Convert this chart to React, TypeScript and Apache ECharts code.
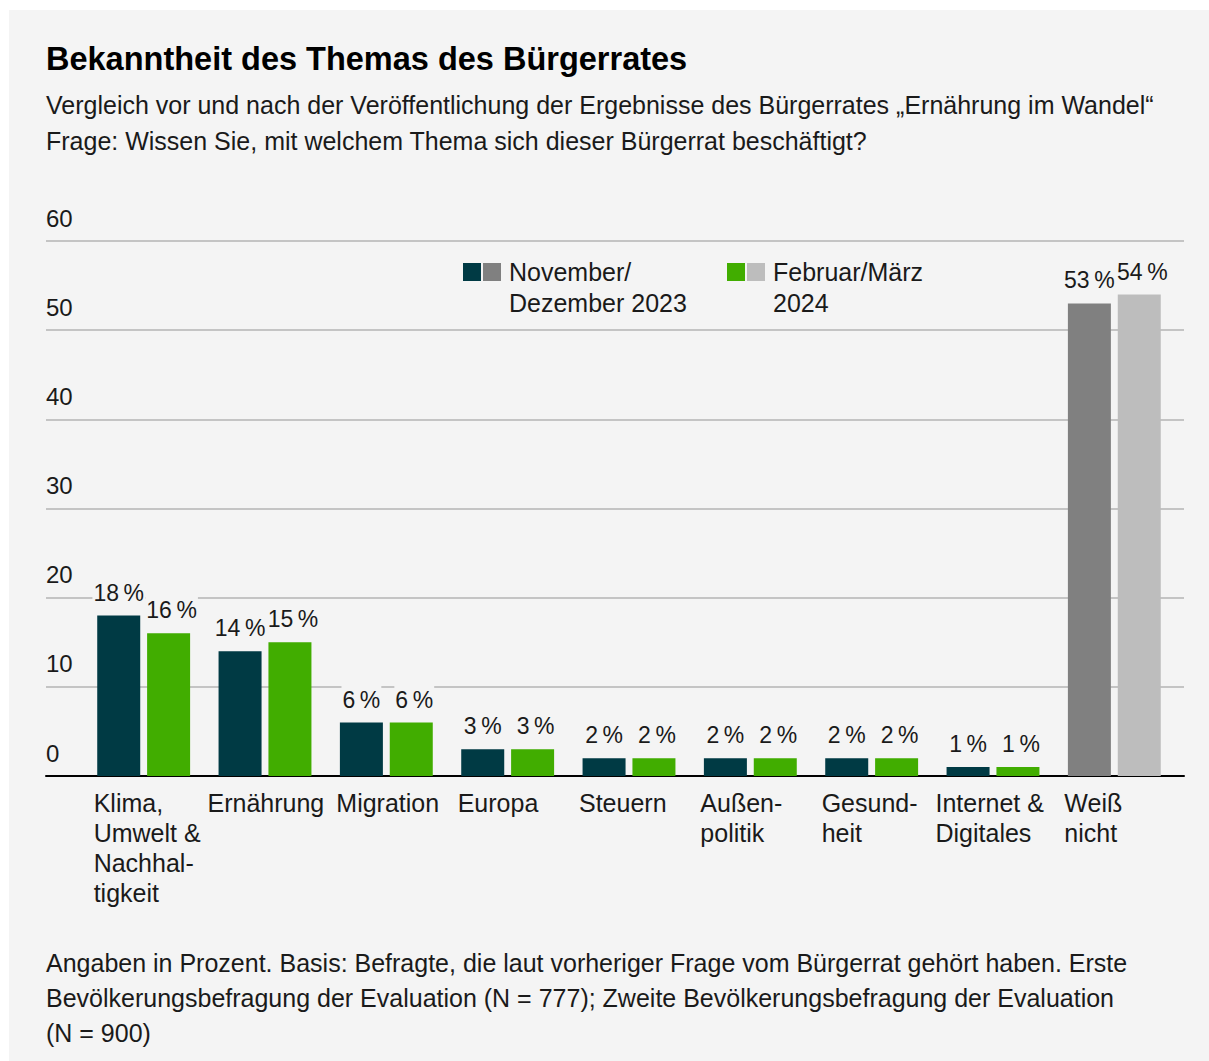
import React, { useEffect, useRef } from "react";
import * as echarts from "echarts";

const categories = [
  "Klima,\nUmwelt &\nNachhal-\ntigkeit",
  "Ernährung",
  "Migration",
  "Europa",
  "Steuern",
  "Außen-\npolitik",
  "Gesund-\nheit",
  "Internet &\nDigitales",
  "Weiß\nnicht",
];
const novDez2023 = [18, 14, 6, 3, 2, 2, 2, 1, 53];
const febMaerz2024 = [16, 15, 6, 3, 2, 2, 2, 1, 54];
const yTicks = { min: 0, max: 60, interval: 10 };

const legendNov = "November/\nDezember 2023";
const legendFeb = "Februar/März\n2024";
const title = "Bekanntheit des Themas des Bürgerrates";
const subtitle =
  "Vergleich vor und nach der Veröffentlichung der Ergebnisse des Bürgerrates „Ernährung im Wandel“\nFrage: Wissen Sie, mit welchem Thema sich dieser Bürgerrat beschäftigt?";
const footnote =
  "Angaben in Prozent. Basis: Befragte, die laut vorheriger Frage vom Bürgerrat gehört haben. Erste\nBevölkerungsbefragung der Evaluation (N = 777); Zweite Bevölkerungsbefragung der Evaluation\n(N = 900)";

const FONT = "'Liberation Sans', Arial, Helvetica, sans-serif";
const TXT = "#1a1a1a";
const PANEL = "#f4f4f4";
const C_NOV = "#003a44";
const C_FEB = "#41ad00";
const C_NOV_GREY = "#808080";
const C_FEB_GREY = "#bdbdbd";
const FS = 25;

export default function App() {
  const ref = useRef<HTMLDivElement>(null);
  useEffect(() => {
    if (!ref.current) return;
    const chart = echarts.init(ref.current, undefined, { renderer: "svg" });
    const lastIdx = categories.length - 1;
    const wideLabels = new Set(["Ernährung", "Internet &\nDigitales"]);
    const labelStyle = (dx: number) => ({
      show: true,
      position: "top",
      distance: 8,
      offset: [dx, 0],
      formatter: (p: any) => `${p.value}\u2009%`,
      color: TXT,
      fontSize: 23,
      fontFamily: FONT,
      lineHeight: 30,
      backgroundColor: PANEL,
      padding: [0, 1],
    });
    chart.setOption({
      animation: false,
      backgroundColor: PANEL,
      textStyle: { fontFamily: FONT },
      grid: [
        { left: 37, width: 1138, top: 231, height: 535 },
        { left: 74, width: 1092, top: 231, height: 535 },
      ],
      xAxis: [
        {
          gridIndex: 0,
          type: "value",
          min: 0,
          max: 1,
          axisLine: { show: true, onZero: false, lineStyle: { color: "#000", width: 2 } },
          axisTick: { show: false },
          axisLabel: { show: false },
          splitLine: { show: false },
        },
        {
          gridIndex: 1,
          type: "category",
          data: categories,
          axisLine: { show: false },
          axisTick: { show: false },
          splitLine: { show: false },
          axisLabel: {
            interval: 0,
            margin: 12,
            color: TXT,
            fontSize: FS,
            lineHeight: 30,
            fontFamily: FONT,
            formatter: (v: string) => {
              const st = wideLabels.has(v) ? "c" : "a";
              return v
                .split("\n")
                .map((l) => `{${st}|${l}}`)
                .join("\n");
            },
            rich: {
              a: { width: 100, align: "left", fontSize: FS, lineHeight: 30, color: TXT, fontFamily: FONT },
              c: { width: 115, align: "left", fontSize: FS, lineHeight: 30, color: TXT, fontFamily: FONT },
            },
          },
        },
      ],
      yAxis: [
        {
          gridIndex: 0,
          type: "value",
          min: yTicks.min,
          max: yTicks.max,
          interval: yTicks.interval,
          axisLine: { show: false },
          axisTick: { show: false },
          splitLine: { show: true, lineStyle: { color: "#b5b5b5", width: 1.5 } },
          axisLabel: {
            inside: true,
            margin: 0,
            color: TXT,
            fontSize: 24,
            fontFamily: FONT,
            verticalAlign: "bottom",
            lineHeight: 24,
            padding: [0, 0, 11, 0],
          },
        },
        {
          gridIndex: 1,
          type: "value",
          min: yTicks.min,
          max: yTicks.max,
          interval: yTicks.interval,
          show: false,
        },
      ],
      series: [
        {
          name: "November/Dezember 2023",
          type: "bar",
          xAxisIndex: 1,
          yAxisIndex: 1,
          barWidth: 43,
          barGap: "16%",
          data: novDez2023.map((v, i) => ({
            value: v,
            itemStyle: { color: i === lastIdx ? C_NOV_GREY : C_NOV },
          })),
          label: labelStyle(0),
        },
        {
          name: "Februar/März 2024",
          type: "bar",
          xAxisIndex: 1,
          yAxisIndex: 1,
          barWidth: 43,
          barGap: "16%",
          data: febMaerz2024.map((v, i) => ({
            value: v,
            itemStyle: { color: i === lastIdx ? C_FEB_GREY : C_FEB },
          })),
          label: labelStyle(3),
        },
      ],
      graphic: [
        {
          type: "text",
          x: 37,
          y: 49,
          style: { text: title, fill: "#000", font: `bold 32.5px ${FONT}`, verticalAlign: "middle" },
        },
        {
          type: "text",
          x: 37,
          y: 77,
          style: {
            text: subtitle,
            fill: TXT,
            fontSize: FS,
            fontFamily: FONT,
            lineHeight: 36,
            verticalAlign: "top",
          },
        },
        { type: "rect", shape: { x: 454, y: 253, width: 18, height: 18 }, style: { fill: C_NOV } },
        { type: "rect", shape: { x: 474, y: 253, width: 18, height: 18 }, style: { fill: C_NOV_GREY } },
        {
          type: "text",
          x: 500,
          y: 246.5,
          style: { text: legendNov, fill: TXT, fontSize: FS, fontFamily: FONT, lineHeight: 31, verticalAlign: "top" },
        },
        { type: "rect", shape: { x: 718, y: 253, width: 18, height: 18 }, style: { fill: C_FEB } },
        { type: "rect", shape: { x: 738, y: 253, width: 18, height: 18 }, style: { fill: C_FEB_GREY } },
        {
          type: "text",
          x: 764,
          y: 246.5,
          style: { text: legendFeb, fill: TXT, fontSize: FS, fontFamily: FONT, lineHeight: 31, verticalAlign: "top" },
        },
        {
          type: "text",
          x: 37,
          y: 935.5,
          style: { text: footnote, fill: TXT, fontSize: FS, fontFamily: FONT, lineHeight: 35, verticalAlign: "top" },
        },
      ],
    });
    return () => chart.dispose();
  }, []);
  return (
    <div style={{ position: "fixed", left: 0, top: 0, width: 1209, height: 1061, background: "#fff", overflow: "hidden" }}>
      <div ref={ref} style={{ position: "absolute", left: 9, top: 10, width: 1200, height: 1051 }} />
    </div>
  );
}
